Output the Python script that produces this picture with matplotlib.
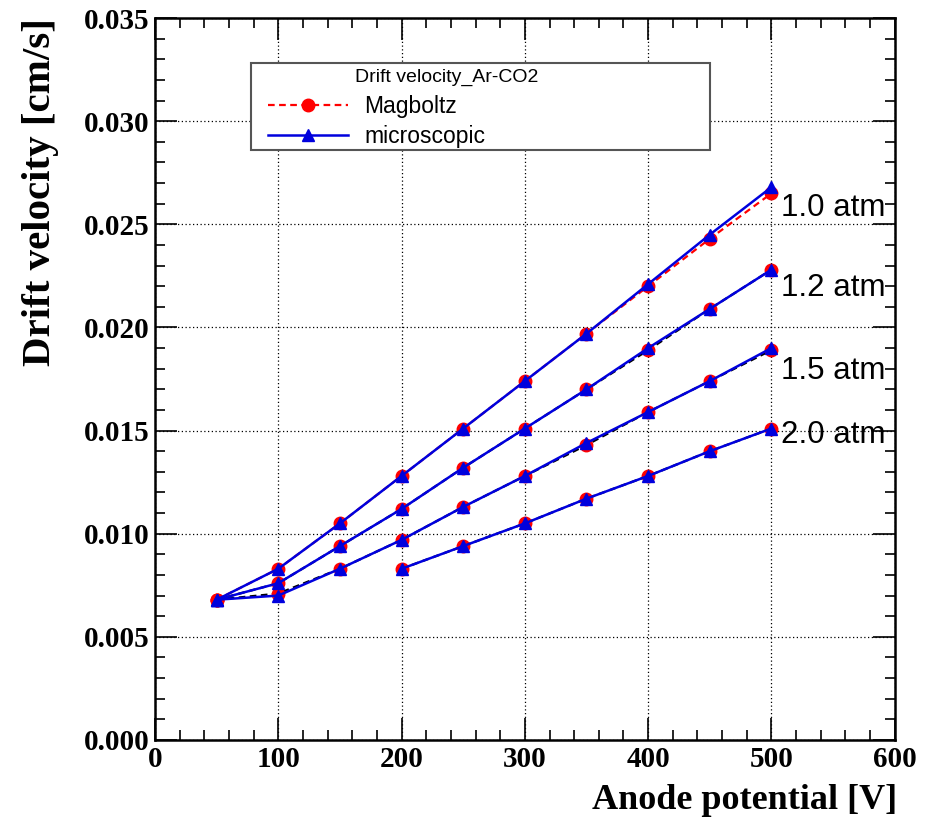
import matplotlib.pyplot as plt
from matplotlib.patches import Rectangle
from matplotlib.ticker import MultipleLocator

# anode potential [V]
volts = [50, 100, 150, 200, 250, 300, 350, 400, 450, 500]
volts_2atm = [200, 250, 300, 350, 400, 450, 500]

# drift velocity [cm/s], Magboltz
mag_10 = [0.0068, 0.0083, 0.0105, 0.0128, 0.0151, 0.0174, 0.0197, 0.0220, 0.0243, 0.0265]
mag_12 = [0.0068, 0.0076, 0.0094, 0.0112, 0.0132, 0.0151, 0.0170, 0.0189, 0.0209, 0.0228]
mag_15 = [0.0068, 0.0071, 0.0083, 0.0097, 0.0113, 0.0128, 0.0143, 0.0159, 0.0174, 0.0189]
mag_20 = [0.0083, 0.0094, 0.0105, 0.0117, 0.0128, 0.0140, 0.0151]

# drift velocity [cm/s], microscopic
mic_10 = [0.0068, 0.0083, 0.0105, 0.0128, 0.0151, 0.0174, 0.0197, 0.0221, 0.0245, 0.0268]
mic_12 = [0.0068, 0.0076, 0.0094, 0.0112, 0.0132, 0.0151, 0.0170, 0.0190, 0.0209, 0.0228]
mic_15 = [0.0068, 0.0070, 0.0083, 0.0097, 0.0113, 0.0128, 0.0144, 0.0159, 0.0174, 0.0190]
mic_20 = [0.0083, 0.0094, 0.0105, 0.0117, 0.0128, 0.0140, 0.0151]

labels = ["1.0 atm", "1.2 atm", "1.5 atm", "2.0 atm"]
label_y = [0.0258, 0.0219, 0.0179, 0.0148]

fig = plt.figure(figsize=(9.32, 8.21), dpi=100)
ax = fig.add_axes([0.1663, 0.0987, 0.7937, 0.8793])

series = [(volts, mag_10, mic_10, "red"), (volts, mag_12, mic_12, "black"),
          (volts, mag_15, mic_15, "black"), (volts_2atm, mag_20, mic_20, "black")]
for i, (x, m, s, dash_col) in enumerate(series):
    ax.plot(x, m, color=dash_col, linestyle=(0, (3, 2)), linewidth=1.6, zorder=2)
    ax.plot(x, m, color="red", linestyle="none", marker="o", markersize=9, zorder=3,
            label="Magboltz" if i == 0 else None)
    ax.plot(x, s, color="#0000dd", linestyle="-", linewidth=1.8, marker="^",
            markersize=8.5, zorder=4, label="microscopic" if i == 0 else None)

for lab, y in zip(labels, label_y):
    ax.text(508, y, lab, fontsize=22.5, family="Liberation Sans", va="center", ha="left",
            clip_on=False)

ax.set_xlim(0, 600)
ax.set_ylim(0, 0.035)
ax.xaxis.set_major_locator(MultipleLocator(100))
ax.xaxis.set_minor_locator(MultipleLocator(20))
ax.yaxis.set_major_locator(MultipleLocator(0.005))
ax.yaxis.set_minor_locator(MultipleLocator(0.001))
ax.yaxis.set_major_formatter(plt.FuncFormatter(lambda v, p: f"{v:.3f}"))
ax.tick_params(which="both", direction="in", top=True, right=True, width=1.2)
ax.tick_params(which="major", length=16, labelsize=21, pad=4)
ax.tick_params(which="minor", length=7.5)
for lab in ax.get_xticklabels() + ax.get_yticklabels():
    lab.set_family("Liberation Serif")
    lab.set_fontweight("bold")
ax.grid(True, which="major", color="black", linestyle=(0, (1, 2)), linewidth=0.9)
for sp in ax.spines.values():
    sp.set_linewidth(1.8)

fig.text(0.963, 0.025, "Anode potential [V]", ha="right", va="center", fontsize=26,
         family="Liberation Serif", fontweight="bold")
fig.text(0.043, 0.978, "Drift velocity [cm/s]", ha="center", va="top", rotation=90,
         fontsize=29.5, family="Liberation Serif", fontweight="bold")

# legend box, title and entries
ax.add_patch(Rectangle((0.2693, 0.8173), 0.4925, 0.106, transform=fig.transFigure,
                       facecolor="white", edgecolor="#555555", linewidth=1.5, zorder=5,
                       clip_on=False))
ax.text(0.381, 0.906, "Drift velocity_Ar-CO2", fontsize=14, family="Liberation Sans",
        ha="left", va="center", zorder=6, transform=fig.transFigure)
leg = ax.legend(loc="upper left", bbox_to_anchor=(0.2876, 0.884), bbox_transform=fig.transFigure,
                prop={"family": "Liberation Sans", "size": 16.5}, frameon=False,
                handlelength=3.5, handletextpad=0.7, borderpad=0, borderaxespad=0,
                labelspacing=0.3)
leg.set_zorder(7)
leg.legend_handles[0].set_linestyle((0, (3, 2)))
leg.legend_handles[0].set_linewidth(1.6)

fig.savefig("out.png", dpi=100)
